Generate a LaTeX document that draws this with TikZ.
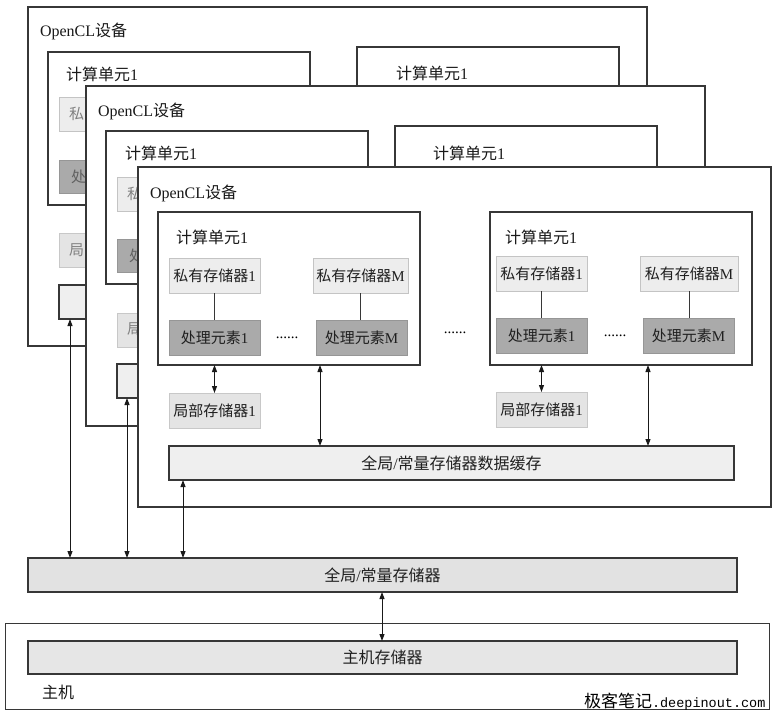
\documentclass[tikz,border=0pt]{standalone}
\usepackage{fontspec}
\setmainfont{Liberation Serif}
\newfontfamily\cjk{Noto Sans CJK SC}
\newfontfamily\wmmono{Liberation Mono}
\newcommand{\zh}[1]{{\cjk #1}}
\usetikzlibrary{arrows.meta}
\definecolor{privfill}{RGB}{237,237,237}
\definecolor{privdraw}{RGB}{196,196,196}
\definecolor{pefill}{RGB}{170,170,170}
\definecolor{pedraw}{RGB}{150,150,150}
\definecolor{locfill}{RGB}{228,228,228}
\definecolor{locdraw}{RGB}{200,200,200}
\definecolor{cachefill}{RGB}{239,239,239}
\definecolor{gmfill}{RGB}{226,226,226}
\definecolor{hmfill}{RGB}{230,230,230}
\definecolor{linec}{RGB}{55,55,55}
\newcommand{\rbox}[7]{\node[#1, minimum width={(#5)-(#3)}, minimum height={(#6)-(#4)}] (#2) at ({((#3)+(#5))/2},{((#4)+(#6))/2}) {#7};}
\begin{document}
\begin{tikzpicture}[x=1pt,y=-1pt,
  every node/.style={inner sep=0pt, outer sep=0pt},
  lbl/.style={anchor=west, font=\fontsize{16}{18}\selectfont, text=black!90},
  box/.style={draw=linec, line width=1.1pt, fill=white},
  memtxt/.style={font=\fontsize{15}{18}\selectfont, text=black!88},
  privb/.style={memtxt, fill=privfill, draw=privdraw, line width=0.9pt},
  peb/.style={memtxt, fill=pefill, draw=pedraw, line width=0.9pt},
  locb/.style={memtxt, fill=locfill, draw=locdraw, line width=0.9pt},
  cacheb/.style={memtxt, fill=cachefill, draw=linec, line width=1.1pt},
  gmb/.style={font=\fontsize{16}{18}\selectfont, text=black!88, fill=gmfill, draw=linec, line width=1.1pt},
  hmb/.style={font=\fontsize{16}{18}\selectfont, text=black!88, fill=hmfill, draw=linec, line width=1.1pt},
  backtxt/.style={anchor=west, font=\fontsize{15}{18}\selectfont, text=black!50},
  backpe/.style={anchor=west, font=\fontsize{15}{18}\selectfont, text=black!62},
  conn/.style={draw=linec, line width=1pt},
  arr/.style={draw=black!90, line width=1pt, {Triangle[length=7pt,width=5pt]}-{Triangle[length=7pt,width=5pt]}},
  dots/.style={anchor=base, font=\fontsize{15}{18}\selectfont}
]
\useasboundingbox (0,0) rectangle (774,713);

% ---------- device 1 (back) ----------
\rbox{box}{d1}{28}{7}{647}{346}{}
\node[lbl] (d1t) at (40,31) {OpenCL\zh{设备}};
\rbox{box}{d1c1}{48}{52}{310}{205}{}
\node[lbl] (d1c1t) at (66,74) {\zh{计算单元}1};
\rbox{box}{d1c2}{357}{47}{619}{200}{}
\node[lbl] (d1c2t) at (396,73) {\zh{计算单元}1};
\rbox{privb}{d1p}{59}{97}{150}{131}{}
\node[backtxt] (d1pt) at (69,114) {\zh{私}};
\rbox{peb}{d1e}{59}{160}{150}{193}{}
\node[backpe] (d1et) at (71,177) {\zh{处}};
\rbox{locb}{d1l}{59}{233}{150}{267}{}
\node[backtxt] (d1lt) at (69,250) {\zh{局}};
\rbox{cacheb}{d1k}{59}{285}{624}{319}{}

% ---------- device 2 (middle) ----------
\rbox{box}{d2}{86}{86}{705}{426}{}
\node[lbl] (d2t) at (98,111) {OpenCL\zh{设备}};
\rbox{box}{d2c1}{106}{131}{368}{284}{}
\node[lbl] (d2c1t) at (125,153) {\zh{计算单元}1};
\rbox{box}{d2c2}{395}{126}{657}{280}{}
\node[lbl] (d2c2t) at (433,153) {\zh{计算单元}1};
\rbox{privb}{d2p}{117}{177}{208}{211}{}
\node[backtxt] (d2pt) at (127,194) {\zh{私}};
\rbox{peb}{d2e}{117}{239}{208}{272}{}
\node[backpe] (d2et) at (129,256) {\zh{处}};
\rbox{locb}{d2l}{117}{313}{208}{347}{}
\node[backtxt] (d2lt) at (127,329) {\zh{局}};
\rbox{cacheb}{d2k}{117}{364}{682}{398}{}

% ---------- device 3 (front) ----------
\rbox{box}{d3}{138}{167}{771}{507}{}
\node[lbl] (d3t) at (150,193) {OpenCL\zh{设备}};
% compute unit 1
\rbox{box}{cu1}{158}{212}{420}{365}{}
\node[lbl] (cu1t) at (176,237) {\zh{计算单元}1};
\rbox{privb}{p1}{169}{258}{260}{293}{\zh{私有存储器}1}
\rbox{privb}{pM}{313}{258}{408}{293}{\zh{私有存储器}M}
\rbox{peb}{e1}{169}{320}{260}{355}{\zh{处理元素}1}
\rbox{peb}{eM}{316}{320}{407}{355}{\zh{处理元素}M}
\draw[conn] (p1.south) -- (e1.north);
\draw[conn] (pM.south) -- (pM.south |- eM.north);
\node[dots] (dt1) at (287,338) {......};
% compute unit 2
\rbox{box}{cu2}{490}{212}{752}{365}{}
\node[lbl] (cu2t) at (505,237) {\zh{计算单元}1};
\rbox{privb}{q1}{496}{256}{587}{291}{\zh{私有存储器}1}
\rbox{privb}{qM}{640}{256}{738}{291}{\zh{私有存储器}M}
\rbox{peb}{f1}{496}{318}{587}{353}{\zh{处理元素}1}
\rbox{peb}{fM}{643}{318}{734}{353}{\zh{处理元素}M}
\draw[conn] (q1.south) -- (f1.north);
\draw[conn] (qM.south) -- (qM.south |- fM.north);
\node[dots] (dt2) at (615,336) {......};
\node[dots] (dt3) at (455,333) {......};
% local memories and cache
\rbox{locb}{l1}{169}{393}{260}{428}{\zh{局部存储器}1}
\rbox{locb}{l2}{496}{392}{587}{427}{\zh{局部存储器}1}
\rbox{cacheb,font=\fontsize{16}{18}\selectfont}{ck}{169}{446}{734}{480}{\zh{全局}/\zh{常量存储器数据缓存}}

% ---------- global memory and host ----------
\rbox{gmb}{gm}{28}{558}{737}{592}{\zh{全局}/\zh{常量存储器}}
\rbox{box,line width=1pt}{host}{5}{623}{769}{709}{}
\rbox{hmb}{hm}{28}{641}{737}{674}{\zh{主机存储器}}
\node[lbl] (hostt) at (42,692) {\zh{主机}};

% ---------- arrows ----------
\coordinate (a1) at (320,0);
\coordinate (a2) at (648,0);
\coordinate (a3) at (183,0);
\coordinate (a4) at (127,0);
\coordinate (a5) at (70,0);
\coordinate (a6) at (382,0);
\draw[arr] (cu1.south -| l1.north) -- (l1.north);
\draw[arr] (cu2.south -| l2.north) -- (l2.north);
\draw[arr] (cu1.south -| a1) -- (ck.north -| a1);
\draw[arr] (cu2.south -| a2) -- (ck.north -| a2);
\draw[arr] (ck.south -| a3) -- (gm.north -| a3);
\draw[arr] (d2k.south -| a4) -- (gm.north -| a4);
\draw[arr] (d1k.south -| a5) -- (gm.north -| a5);
\draw[arr] (gm.south -| a6) -- (hm.north -| a6);

% ---------- watermark ----------
\node[anchor=base west, font=\fontsize{17}{18}\selectfont] (wm) at (584,707)
  {\zh{极客笔记}{\wmmono\fontsize{13.5}{14}\selectfont .deepinout.com}};
\end{tikzpicture}
\end{document}
